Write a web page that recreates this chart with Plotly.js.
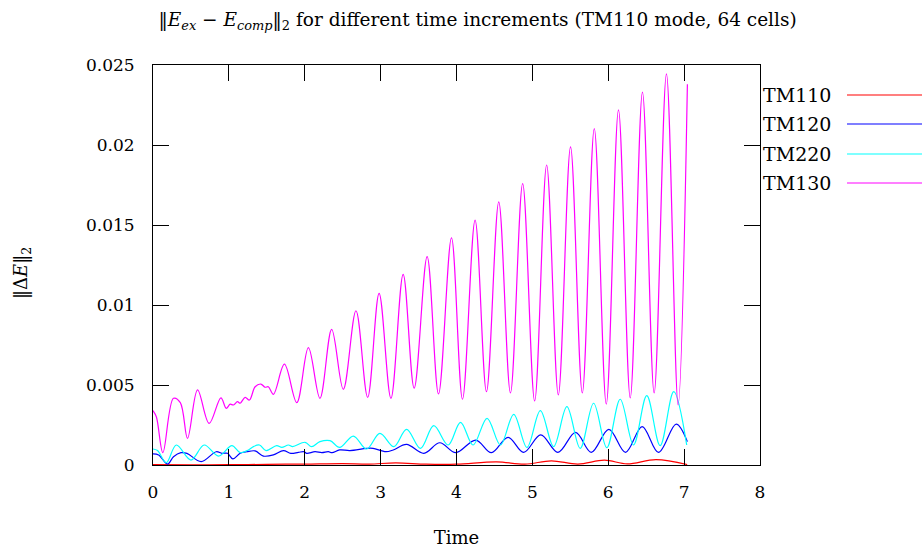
<!DOCTYPE html>
<html>
<head>
<meta charset="utf-8">
<script src="https://cdn.plot.ly/plotly-3.0.1.min.js"></script>
<style>html,body{margin:0;padding:0;background:#fff;}#chart{width:922px;height:548px;}</style>
</head>
<body>
<div id="chart"></div>
<script>
// ---- data ----
const seriesNames = ["TM110", "TM120", "TM220", "TM130"];

const tm110_t = [0, 0.5, 1.0, 1.5, 2.0, 2.5, 2.85, 3.2, 3.6, 4.0, 4.53, 4.9, 5.25, 5.6, 5.95, 6.25, 6.63, 7.04];
const tm110_v = [0.00002, 0.00001, 0.00002, 0.00004, 0.00006, 0.00009, 0.00006, 0.00013, 0.00005, 0.00005, 0.0002, 0.00005, 0.00026, 0.00006, 0.0003, 0.00007, 0.00033, 0.00003];

const tm120_t = [0, 0.074, 0.192, 0.27, 0.368, 0.447, 0.635, 0.833, 0.908, 0.982, 1.052, 1.149, 1.237, 1.346, 1.455, 1.587, 1.719, 1.816, 1.916, 1.991, 2.026, 2.136, 2.224, 2.311, 2.36, 2.46, 2.596, 2.816, 2.9, 3.07, 3.166, 3.342, 3.57, 3.78, 3.99, 4.254, 4.46, 4.68, 4.885, 5.11, 5.337, 5.57, 5.776, 6.008, 6.228, 6.447, 6.662, 6.895, 7.043];
const tm120_v = [0.00069, 0.00063, 0.00006, 0.00052, 0.00077, 0.00073, 0.00021, 0.00083, 0.00073, 0.00073, 0.00038, 0.00073, 0.00083, 0.00088, 0.00056, 0.00063, 0.0009, 0.00073, 0.00079, 0.00083, 0.00073, 0.00083, 0.00077, 0.00083, 0.00077, 0.00094, 0.0009, 0.00104, 0.00104, 0.00083, 0.00094, 0.00129, 0.00073, 0.00139, 0.00077, 0.00156, 0.00077, 0.00173, 0.00079, 0.00188, 0.00079, 0.00204, 0.00079, 0.00223, 0.00079, 0.0024, 0.00079, 0.00256, 0.00146];

const tm220_t = [0, 0.06, 0.175, 0.307, 0.5, 0.675, 0.863, 1.04, 1.149, 1.258, 1.324, 1.403, 1.49, 1.63, 1.697, 1.785, 1.84, 2.004, 2.09, 2.2, 2.333, 2.46, 2.64, 2.815, 2.99, 3.175, 3.342, 3.526, 3.7, 3.89, 4.053, 4.218, 4.403, 4.579, 4.754, 4.929, 5.105, 5.28, 5.455, 5.63, 5.807, 5.981, 6.158, 6.333, 6.508, 6.684, 6.863, 7.034];
const tm220_v = [0.001, 0.0009, 0.00014, 0.00125, 0.00031, 0.00125, 0.00056, 0.00121, 0.00077, 0.00094, 0.00115, 0.00125, 0.0009, 0.00121, 0.0011, 0.00125, 0.00115, 0.00142, 0.00115, 0.00146, 0.00152, 0.0011, 0.00181, 0.001, 0.00198, 0.00115, 0.00223, 0.00104, 0.00246, 0.00125, 0.00267, 0.00125, 0.00292, 0.00125, 0.00317, 0.0011, 0.0034, 0.00115, 0.00365, 0.00104, 0.00386, 0.00108, 0.00411, 0.00125, 0.00433, 0.00121, 0.00458, 0.00125];

const tm130_t = [0, 0.045, 0.13, 0.27, 0.36, 0.455, 0.587, 0.74, 0.895, 0.965, 1.017, 1.06, 1.113, 1.149, 1.214, 1.271, 1.346, 1.421, 1.478, 1.52, 1.587, 1.732, 1.895, 2.048, 2.2, 2.355, 2.508, 2.675, 2.829, 2.98, 3.136, 3.297, 3.442, 3.613, 3.763, 3.934, 4.079, 4.245, 4.395, 4.557, 4.711, 4.872, 5.03, 5.188, 5.342, 5.503, 5.658, 5.816, 5.974, 6.135, 6.29, 6.451, 6.605, 6.767, 6.921, 7.043];
const tm130_v = [0.0034, 0.003, 0.00077, 0.00417, 0.0039, 0.00167, 0.0047, 0.0026, 0.0042, 0.00354, 0.0038, 0.00375, 0.00396, 0.00386, 0.00423, 0.00406, 0.00489, 0.00506, 0.00486, 0.00489, 0.00442, 0.0063, 0.0039, 0.00733, 0.00417, 0.00848, 0.00473, 0.00964, 0.00423, 0.01073, 0.00417, 0.01192, 0.0048, 0.01302, 0.00444, 0.01419, 0.00411, 0.01531, 0.00458, 0.01644, 0.0045, 0.01758, 0.004, 0.01875, 0.00438, 0.01988, 0.0045, 0.02102, 0.00381, 0.02219, 0.00419, 0.02331, 0.0045, 0.02445, 0.00375, 0.0238];

const xTicks = [0, 1, 2, 3, 4, 5, 6, 7, 8];
const yTicks = [0, 0.005, 0.01, 0.015, 0.02, 0.025];
const yTickText = ["0", "0.005", "0.01", "0.015", "0.02", "0.025"];

// ---- styles ----
const colors = ["#ff0000", "#0000ff", "#00ffff", "#ff00ff"];
const FONT = "DejaVu Serif";

const xs = [tm110_t, tm120_t, tm220_t, tm130_t];
const ys = [tm110_v, tm120_v, tm220_v, tm130_v];

const traces = seriesNames.map((n, i) => ({
  x: xs[i], y: ys[i], name: n, type: "scatter", mode: "lines",
  line: {color: colors[i], width: 1.2, shape: "spline", smoothing: 1},
  showlegend: false, hoverinfo: "skip"
}));

// legend drawn gnuplot-style: text left, line sample right
const legY = [0.925, 0.8525, 0.7775, 0.705];
const annotations = seriesNames.map((n, i) => ({
  xref: "paper", yref: "paper", x: 1.0016, y: legY[i], xanchor: "left", yanchor: "middle",
  text: n, showarrow: false, font: {family: FONT, size: 19, color: "#000"}
}));
const shapes = seriesNames.map((n, i) => ({
  type: "line", xref: "paper", yref: "paper", x0: 1.1433, x1: 1.27, y0: legY[i], y1: legY[i],
  line: {color: colors[i], width: 1.2}
}));

annotations.push({
  xref: "paper", yref: "paper", x: -0.216, y: 0.48, xanchor: "center", yanchor: "middle",
  textangle: -90, showarrow: false, text: "‖Δ<i>E</i>‖<sub>2</sub>",
  font: {family: FONT, size: 18, color: "#000"}
});

const layout = {
  width: 922, height: 548,
  margin: {l: 153, r: 162, t: 65, b: 83},
  paper_bgcolor: "#fff", plot_bgcolor: "#fff",
  font: {family: FONT, size: 17, color: "#000"},
  title: {
    text: "‖<i>E</i><sub><i>ex</i></sub> − <i>E</i><sub><i>comp</i></sub>‖<sub>2</sub> for different time increments (TM110 mode, 64 cells)",
    x: 0.518, xref: "container", xanchor: "center",
    y: 0.965, yref: "container", yanchor: "middle",
    font: {family: FONT, size: 18.5, color: "#000"}
  },
  xaxis: {
    range: [0, 8], tickvals: xTicks, ticktext: xTicks.map(String),
    ticks: "inside", ticklen: 16, tickwidth: 1, tickcolor: "#000",
    showline: true, linecolor: "#000", linewidth: 1, mirror: "ticks",
    showgrid: false, zeroline: false, ticklabelstandoff: 12,
    tickfont: {family: FONT, size: 17},
    title: {text: "Time", standoff: 29, font: {family: FONT, size: 18}}
  },
  yaxis: {
    range: [0, 0.025], tickvals: yTicks, ticktext: yTickText,
    ticks: "inside", ticklen: 16, tickwidth: 1, tickcolor: "#000",
    showline: true, linecolor: "#000", linewidth: 1, mirror: "ticks",
    showgrid: false, zeroline: false, ticklabelstandoff: 14,
    tickfont: {family: FONT, size: 17}
  },
  annotations: annotations,
  shapes: shapes,
  showlegend: false
};

Plotly.newPlot("chart", traces, layout, {displayModeBar: false, staticPlot: true});
</script>
</body>
</html>
